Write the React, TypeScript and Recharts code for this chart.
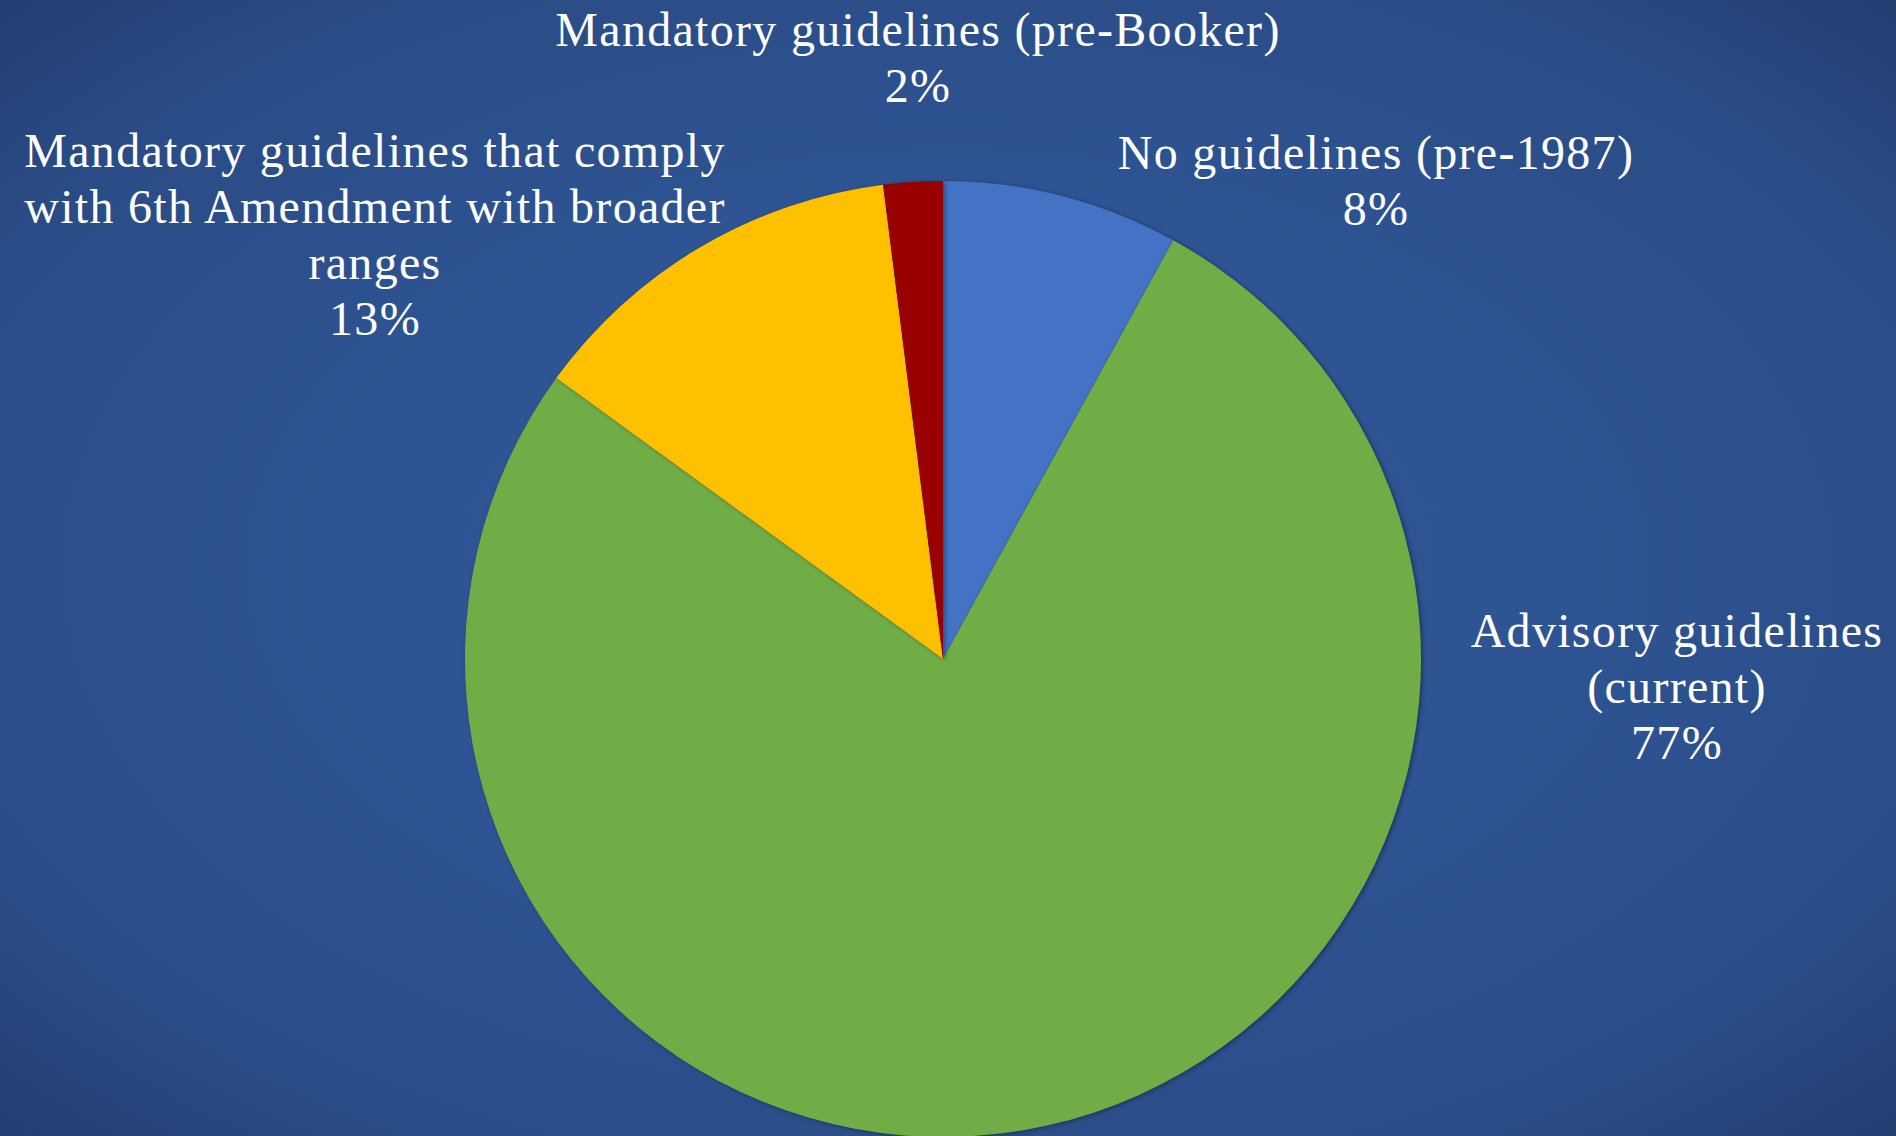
import { PieChart, Pie, Cell } from 'recharts';

const NAMES = [
  'No guidelines (pre-1987)',
  'Advisory guidelines (current)',
  'Mandatory guidelines that comply with 6th Amendment with broader ranges',
  'Mandatory guidelines (pre-Booker)',
];
const VALUES = [8, 77, 13, 2];
const COLORS = ['#4472c4', '#70ad47', '#ffc000', '#990000'];

// label text lines, as Excel wrapped them
const LABEL_LINES = [
  ['No guidelines (pre-1987)'],
  ['Advisory guidelines', '(current)'],
  ['Mandatory guidelines that comply', 'with 6th Amendment with broader', 'ranges'],
  ['Mandatory guidelines (pre-Booker)'],
];
// label box centre relative to pie centre
const LABEL_OFFSET = [
  [433, -479],
  [734, 27],
  [-568, -425],
  [-25, -602],
];

const data = NAMES.map((name, i) => ({ name, value: VALUES[i] }));

const W = 1896;
const H = 1136;
const LINE = 56;

function renderLabel(props: any) {
  const { cx, cy, index, percent } = props;
  const lines = [...LABEL_LINES[index], `${Math.round(percent * 100)}%`];
  const [dx, dy] = LABEL_OFFSET[index];
  const x = cx + dx;
  const top = cy + dy - ((lines.length - 1) * LINE) / 2;
  return (
    <text
      x={x}
      y={top}
      fill="#ffffff"
      textAnchor="middle"
      dominantBaseline="central"
      fontFamily="'Liberation Serif', serif"
      fontSize={48}
      letterSpacing={1.3}
    >
      {lines.map((l, i) => (
        <tspan key={i} x={x} y={top + i * LINE}>
          {l}
        </tspan>
      ))}
    </text>
  );
}

export default function App() {
  return (
    <div
      style={{
        position: 'absolute',
        left: 0,
        top: 0,
        width: W,
        height: H,
        overflow: 'hidden',
        background:
          'radial-gradient(ellipse at 50% 50%, #2f5597 0%, #2e5493 45%, #2a4c86 80%, #233e71 100%)',
      }}
    >
      <PieChart width={W} height={H} margin={{ top: 0, right: 0, bottom: 0, left: 0 }}>
        <Pie
          data={data}
          dataKey="value"
          nameKey="name"
          cx={943}
          cy={659}
          outerRadius={478}
          startAngle={90}
          endAngle={-270}
          stroke="none"
          label={renderLabel}
          labelLine={false}
          isAnimationActive={false}
          style={{ filter: 'drop-shadow(2px 1px 2px rgba(0,0,0,0.35))' }}
        >
          {data.map((d, i) => (
            <Cell key={d.name} fill={COLORS[i]} />
          ))}
        </Pie>
      </PieChart>
    </div>
  );
}
